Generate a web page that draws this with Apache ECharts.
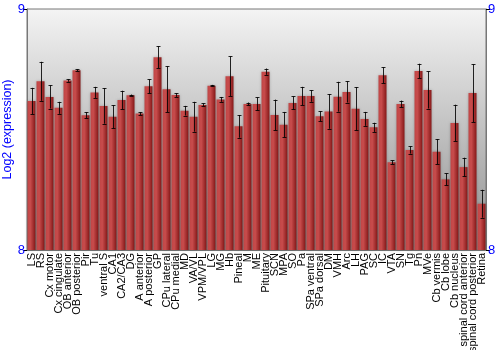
<!DOCTYPE html>
<html><head><meta charset="utf-8">
<script src="https://cdn.jsdelivr.net/npm/echarts@6/dist/echarts.min.js"></script>
<style>html,body{margin:0;padding:0;background:#fff}#c{width:500px;height:350px}</style>
</head><body><div id="c"></div>
<script>
var categories = ["LS","RS","Cx motor","Cx cingulate","OB anterior","OB posterior","Pir","Tu","ventral S","CA1","CA2/CA3","DG","A anterior","A posterior","GP","CPu lateral","CPu medial","MD","VA/VL","VPM/VPL","LG","MG","Hb","Pineal","M","ME","Pituitary","SCN","MPA","SO","Pa","SPa ventral","SPa dorsal","DM","VMH","Arc","LH","PAG","SC","IC","VTA","SN","Tg","Pn","MVe","Cb vermis","Cb lobe","Cb nucleus","spinal cord anterior","spinal cord posterior","Retina"];
var values = [8.618,8.700,8.635,8.590,8.703,8.746,8.559,8.654,8.598,8.553,8.622,8.642,8.566,8.679,8.800,8.667,8.643,8.578,8.553,8.602,8.682,8.625,8.721,8.513,8.606,8.606,8.740,8.560,8.520,8.610,8.639,8.639,8.555,8.575,8.636,8.656,8.586,8.544,8.509,8.725,8.364,8.606,8.415,8.743,8.664,8.408,8.293,8.527,8.344,8.651,8.192];
var errors = [0.055,0.081,0.048,0.025,0.005,0.004,0.013,0.023,0.074,0.048,0.039,0.003,0.006,0.029,0.045,0.095,0.008,0.020,0.062,0.006,0.003,0.010,0.082,0.047,0.006,0.027,0.013,0.064,0.053,0.027,0.038,0.024,0.021,0.072,0.062,0.044,0.090,0.029,0.019,0.033,0.008,0.014,0.015,0.030,0.077,0.052,0.025,0.076,0.039,0.120,0.058];
var yTicks = [8, 9];

var errData = values.map(function(v, i){ return [i, v - errors[i], v + errors[i]]; });

var chart = echarts.init(document.getElementById('c'), null, {renderer:'canvas'});
var yAxisCommon = {
  type:'value', min:yTicks[0], max:yTicks[1], interval:1,
  axisLine:{show:true, lineStyle:{color:'#777', width:1}},
  axisTick:{show:true, length:4, lineStyle:{color:'#000'}},
  splitLine:{show:false},
  axisLabel:{color:'#0000ff', fontSize:13, fontFamily:'Liberation Sans, Arial, sans-serif', margin:2}
};
chart.setOption({
  animation:false,
  grid:{left:27, right:14, top:9, bottom:100, containLabel:false, outerBoundsMode:'none', show:true, borderColor:'#777', borderWidth:1,
    backgroundColor:new echarts.graphic.LinearGradient(0,0,0,1,[{offset:0,color:'#f4f4f4'},{offset:1,color:'#8e8e8e'}])},
  xAxis:{type:'category', data:categories,
    axisLine:{show:true, lineStyle:{color:'#777'}},
    axisTick:{show:false},
    axisLabel:{interval:0, rotate:90, fontSize:11, color:'#000', fontFamily:'Liberation Sans, Arial, sans-serif', margin:3}},
  yAxis:[
    Object.assign({}, yAxisCommon, {position:'left', name:'Log2 (expression)', nameLocation:'middle', nameGap:13, nameMoveOverlap:false,
      nameTextStyle:{color:'#0000ff', fontSize:12.5, fontFamily:'Liberation Sans, Arial, sans-serif'}}),
    Object.assign({}, yAxisCommon, {position:'right'})
  ],
  series:[
    {type:'bar', data:values, barWidth:8,
     itemStyle:{color:new echarts.graphic.LinearGradient(0,0,1,0,[{offset:0,color:'#c04545'},{offset:0.35,color:'#c84c4c'},{offset:1,color:'#861818'}]),
       shadowColor:'rgba(0,0,0,0.25)', shadowBlur:3}},
    {type:'custom', data:errData, z:10,
     renderItem:function(params, api){
       var x = api.value(0);
       var lo = api.coord([x, api.value(1)]);
       var hi = api.coord([x, api.value(2)]);
       var w = 2;
       var style = {stroke:'rgba(0,0,0,0.85)', lineWidth:1};
       return {type:'group', children:[
         {type:'line', shape:{x1:Math.round(lo[0])+0.5, y1:lo[1], x2:Math.round(hi[0])+0.5, y2:hi[1]}, style:style},
         {type:'line', shape:{x1:Math.round(lo[0])-w+0.5, y1:Math.round(lo[1])+0.5, x2:Math.round(lo[0])+w+0.5, y2:Math.round(lo[1])+0.5}, style:style},
         {type:'line', shape:{x1:Math.round(hi[0])-w+0.5, y1:Math.round(hi[1])+0.5, x2:Math.round(hi[0])+w+0.5, y2:Math.round(hi[1])+0.5}, style:style}
       ]};
     }}
  ]
});
</script></body></html>
